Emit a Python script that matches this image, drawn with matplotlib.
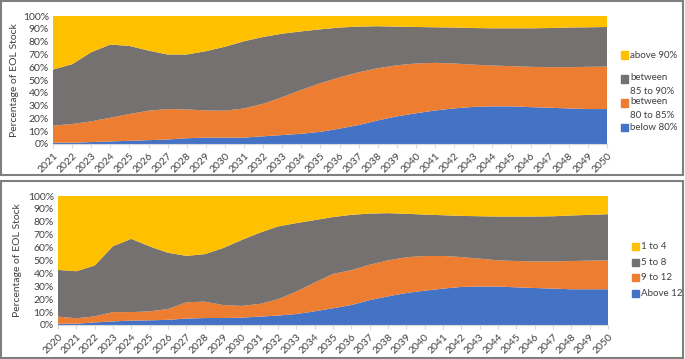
import matplotlib.pyplot as plt
import numpy as np
from matplotlib.patches import Rectangle

plt.rcParams['font.family'] = ['Lato', 'DejaVu Sans']

# top panel: share of EOL stock by state of health (%)
years_top = list(range(2021, 2051))
below80 = [1, 1, 1.5, 2, 2.5, 3, 3.5, 4.5, 5, 5, 5, 6, 7, 8, 9.5, 12, 14.8, 18.4, 21.6, 24,
           26.2, 27.8, 29, 29.4, 29.4, 28.8, 28.3, 27.8, 27.3, 27.3]
btw80_85 = [13.3, 14.6, 16.2, 18.5, 20.9, 23, 23.8, 22.5, 21.2, 21, 22.8, 25.4, 29.6, 34.3, 38, 40,
            41.2, 40.8, 39.9, 38.9, 37.2, 35.1, 33, 31.9, 31.4, 31.5, 31.7, 32.2, 33, 33.2]
btw85_90 = [43.9, 46.7, 54, 57.2, 53.2, 47, 42.6, 42.9, 46.3, 50, 52.5, 52.2, 49.6, 45.7, 42.1, 39,
            35.7, 32.8, 30.2, 28.5, 27.8, 28.1, 28.6, 29.1, 29.6, 30.1, 30.6, 31, 30.9, 30.9]
above90 = [41.8, 37.7, 28.3, 22.3, 23.4, 27, 30.1, 30.1, 27.5, 24, 19.7, 16.4, 13.8, 12, 10.4, 9,
           8.3, 8, 8.3, 8.6, 8.8, 9, 9.4, 9.6, 9.6, 9.6, 9.4, 9, 8.8, 8.6]
labels_top = ['below 80%', 'between\n80 to 85%', 'between\n85 to 90%', 'above 90%']

# bottom panel: share of EOL stock by age group (%)
years_bot = list(range(2020, 2051))
above12 = [1, 1, 2, 2.8, 3.4, 3.6, 4, 5, 5.4, 5.4, 5.7, 6.5, 7.3, 8.5, 10.6, 13, 15.5, 19.3, 22.2,
           24.8, 26.6, 28.2, 29.5, 29.8, 29.8, 29.2, 28.7, 28.2, 27.7, 27.7, 27.7]
age9_12 = [5.5, 4.2, 4.7, 7.2, 6.6, 7, 8.4, 12.6, 12.7, 10.1, 9.1, 9.8, 12.7, 17.4, 22.3, 26.6, 27,
           27.4, 27.9, 27.7, 26.9, 25.3, 23.2, 21.6, 20.3, 20.4, 20.6, 21.1, 21.9, 22.2, 22.4]
age5_8 = [36.2, 36.5, 39.4, 51.1, 56.8, 50.3, 43.6, 36, 36.8, 44.1, 51, 55.2, 56.4, 53.1, 48.4, 44.1,
          42.9, 39.7, 36.6, 33.7, 32.1, 31.6, 31.9, 32.9, 34, 34.5, 34.8, 35, 35.3, 35.5, 35.8]
age1_4 = [57.3, 58.3, 53.9, 38.9, 33.2, 39.1, 44, 46.4, 45.1, 40.4, 34.2, 28.5, 23.6, 21, 18.7, 16.3,
          14.6, 13.6, 13.3, 13.8, 14.4, 14.9, 15.4, 15.7, 15.9, 15.9, 15.9, 15.7, 15.1, 14.6, 14.1]
labels_bot = ['Above 12', '9 to 12', '5 to 8', '1 to 4']

colors = ['#4472C4', '#ED7D31', '#767171', '#FFC000']
txt = '#404040'

W, H = 685, 359
fig = plt.figure(figsize=(W / 100, H / 100), dpi=100)

def px_axes(left, top, right, bottom):
    return fig.add_axes([left / W, 1 - bottom / H, (right - left) / W, (bottom - top) / H])

def style(ax, years, ylab_x):
    ax.set_xlim(years[0], years[-1])
    ax.set_ylim(0, 100)
    ax.set_yticks(range(0, 101, 10))
    ax.set_yticklabels([f'{v}%' for v in range(0, 101, 10)], fontsize=7.5, color=txt)
    ax.set_xticks(years)
    ax.set_xticklabels([str(y) for y in years], rotation=45, ha='right',
                       rotation_mode='anchor', fontsize=7.5, color=txt)
    for s in ['top', 'right', 'left']:
        ax.spines[s].set_visible(False)
    ax.spines['bottom'].set_color('#d9d9d9')
    ax.tick_params(axis='y', length=0, pad=3)
    ax.tick_params(axis='x', length=3, color='#d9d9d9', pad=2)
    ax.set_ylabel('Percentage of EOL Stock', fontsize=7.5, color=txt)
    ax.yaxis.set_label_coords(ylab_x, 0.5)

def square(x, y, col):
    fig.patches.append(Rectangle(((x - 3.5) / W, 1 - (y + 3.5) / H), 7 / W, 7 / H,
                                 transform=fig.transFigure, color=col))

def legend(entries, x, ys):
    for (lab, col), y in zip(entries, ys):
        square(x, y, col)
        fig.text((x + 6) / W, 1 - (y + 0.5) / H, lab, fontsize=7, color=txt, va='center')

# top panel
ax1 = px_axes(53, 16, 607, 144)
ax1.stackplot(years_top, below80, btw80_85, btw85_90, above90, colors=colors, lw=0)
style(ax1, years_top, -0.062)

# bottom panel
ax2 = px_axes(58, 196, 608, 325)
ax2.stackplot(years_bot, above12, age9_12, age5_8, age1_4, colors=colors, lw=0)
style(ax2, years_bot, -0.066)

# panel frames
for top, bot in [(1, 175), (181, 358)]:
    fig.patches.append(Rectangle((1 / W, 1 - bot / H), (W - 3) / W, (bot - top) / H,
                                 transform=fig.transFigure, fill=False,
                                 edgecolor='#7f7f7f', lw=1.5))

# legends (top to bottom, reversed stack order)
legend([(labels_top[3], colors[3])], 624, [55])
for lab, col, y in [(labels_top[2], colors[2], 79), (labels_top[1], colors[1], 103)]:
    square(624, y, col)
    fig.text(630 / W, 1 - (y - 6) / H, lab, fontsize=7, color=txt, va='top', linespacing=1.65)
legend([(labels_top[0], colors[0])], 624, [127])

legend([(labels_bot[i], colors[i]) for i in [3, 2, 1, 0]], 635, [246, 262, 277, 293])

fig.savefig('out.png', dpi=100)
